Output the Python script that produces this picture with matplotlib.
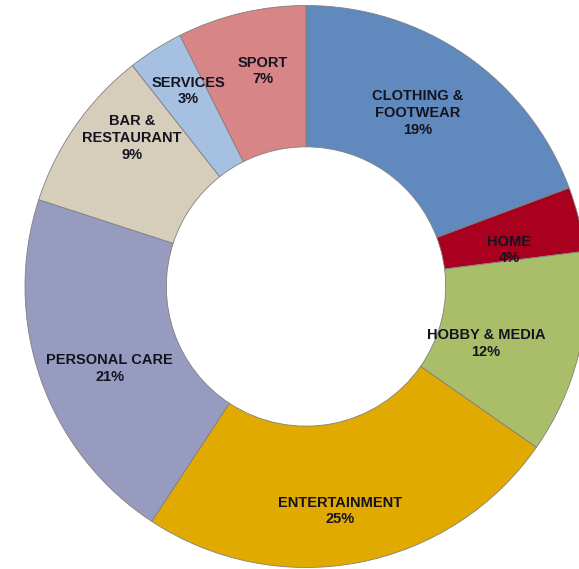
import numpy as np
import matplotlib
matplotlib.use("Agg")
import matplotlib.pyplot as plt

# Données du graphique (parts, étiquettes arrondies)
categories = ["CLOTHING &\nFOOTWEAR", "HOME", "HOBBY & MEDIA", "ENTERTAINMENT",
              "PERSONAL CARE", "BAR &\nRESTAURANT", "SERVICES", "SPORT"]
shares = [19.3, 3.7, 11.7, 24.55, 20.75, 9.4, 3.2, 7.4]
pct_labels = [19, 4, 12, 25, 21, 9, 3, 7]
colors = ["#6089BE", "#A8001E", "#AABE6A", "#E1AA00",
          "#989BC0", "#D6CEBA", "#A6C0E2", "#D78587"]

# Placement des étiquettes (rayon relatif, décalage angulaire en degrés)
label_radius = [0.735, 0.734, 0.672, 0.808, 0.757, 0.814, 0.813, 0.782]
label_shift = [1.9, -3.7, -3.8, -2.3, 3.4, -5.6, -1.3, -2.0]

W, H = 579, 569
R_PX = 281.0
CX, CY = 306.0, H - 286.5   # centre en pixels (depuis le bas)

fig = plt.figure(figsize=(W / 100, H / 100), dpi=100)
ax = fig.add_axes([0, 0, 1, 1])

wedges, _ = ax.pie(shares, colors=colors, startangle=90, counterclock=False,
                   radius=1.0,
                   wedgeprops=dict(width=0.503, edgecolor="#808080", linewidth=0.6))

for w, lab, val, r, d in zip(wedges, categories, pct_labels, label_radius, label_shift):
    ang = np.deg2rad((w.theta1 + w.theta2) / 2 + d)
    ax.text(r * np.cos(ang), r * np.sin(ang), f"{lab}\n{val}%",
            ha="center", va="center", fontsize=10.5, fontweight="bold",
            family="Liberation Sans", color="#141420", linespacing=1.25)

ax.set_xlim(-CX / R_PX, (W - CX) / R_PX)
ax.set_ylim(-CY / R_PX, (H - CY) / R_PX)
ax.set_aspect("auto")
ax.axis("off")

fig.savefig("out.png", dpi=100)
plt.close(fig)
